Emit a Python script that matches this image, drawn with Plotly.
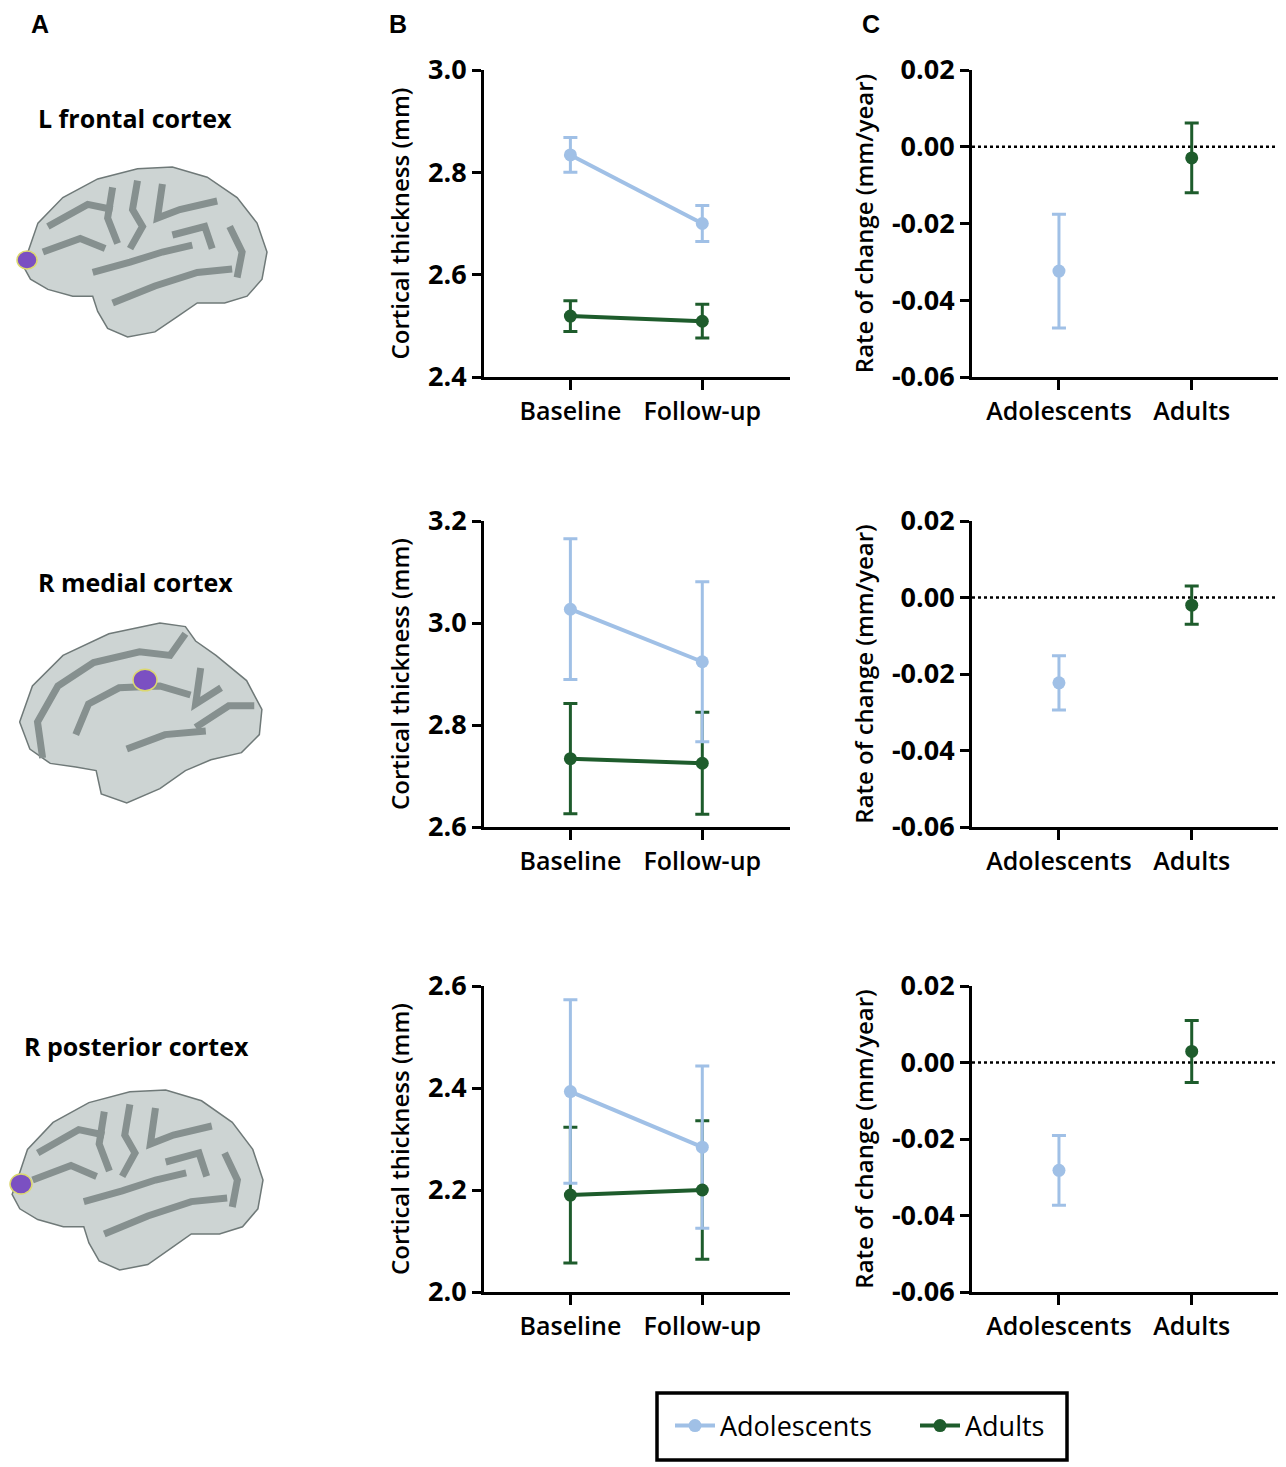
import plotly.graph_objects as go

W, H = 1286, 1467
OFF = 8  # the page body margin shifts everything by this much

# ---- data ----
timepoints = ["Baseline", "Follow-up"]
groups = ["Adolescents", "Adults"]
regions = ["L frontal cortex", "R medial cortex", "R posterior cortex"]

# panel B: cortical thickness (mm), mean and error per region
adol_thick = [[2.834, 2.700], [3.027, 2.924], [2.393, 2.284]]
adol_thick_err = [[0.034, 0.035], [0.138, 0.157], [0.180, 0.159]]
adult_thick = [[2.519, 2.509], [2.734, 2.725], [2.190, 2.200]]
adult_thick_err = [[0.030, 0.033], [0.108, 0.100], [0.133, 0.136]]

# panel C: rate of change (mm/year)
adol_rate = [-0.0324, -0.0223, -0.0282]
adol_rate_err = [0.0148, 0.0071, 0.0091]
adult_rate = [-0.0029, -0.0020, 0.0029]
adult_rate_err = [0.0091, 0.0050, 0.0081]

thick_ranges = [(2.4, 3.0), (2.6, 3.2), (2.0, 2.6)]
thick_ticks = [[2.4, 2.6, 2.8, 3.0], [2.6, 2.8, 3.0, 3.2], [2.0, 2.2, 2.4, 2.6]]
rate_ticks = [-0.06, -0.04, -0.02, 0.00, 0.02]
rate_labels = ["-0.06", "-0.04", "-0.02", "0.00", "0.02"]

BLUE = "#a0c0e6"
GREEN = "#1e5c2c"
FONT = "Open Sans"

# pixel layout of the panels (as seen in the reference)
row_px = [(70, 377), (521, 827), (986, 1292)]
colB_px = (484, 790)
colC_px = (972, 1280)


def px(x, y):
    return (x - OFF) / W, 1 - (y - OFF) / H


def dom_x(a, b):
    return [(a - OFF) / W, (b - OFF) / W]


def dom_y(top, bot):
    return [1 - (bot - OFF) / H, 1 - (top - OFF) / H]


fig = go.Figure()
layout = {}

for r in range(3):
    xb, yb = f"x{2*r+1}", f"y{2*r+1}"
    xc, yc = f"x{2*r+2}", f"y{2*r+2}"

    # error bars first, then the lines and points on top
    for vals, errs, col in [(adult_thick[r], adult_thick_err[r], GREEN),
                            (adol_thick[r], adol_thick_err[r], BLUE)]:
        fig.add_trace(go.Scatter(
            x=[0, 1], y=vals, mode="markers", xaxis=xb, yaxis=yb,
            marker=dict(size=0, color=col), showlegend=False, hoverinfo="skip",
            error_y=dict(type="data", array=errs, color=col, thickness=3, width=7)))
    for vals, col, name, rank in [(adult_thick[r], GREEN, "Adults", 2),
                                  (adol_thick[r], BLUE, "Adolescents", 1)]:
        fig.add_trace(go.Scatter(
            x=[0, 1], y=vals, mode="lines+markers", xaxis=xb, yaxis=yb,
            line=dict(color=col, width=4), marker=dict(size=13, color=col),
            name=name, legendrank=rank, showlegend=(r == 0)))

    # panel C
    fig.add_trace(go.Scatter(
        x=[0], y=[adol_rate[r]], mode="markers", xaxis=xc, yaxis=yc,
        marker=dict(size=13, color=BLUE), showlegend=False,
        error_y=dict(type="data", array=[adol_rate_err[r]], color=BLUE, thickness=3, width=7)))
    fig.add_trace(go.Scatter(
        x=[1], y=[adult_rate[r]], mode="markers", xaxis=xc, yaxis=yc,
        marker=dict(size=13, color=GREEN), showlegend=False,
        error_y=dict(type="data", array=[adult_rate_err[r]], color=GREEN, thickness=3, width=7)))

    top, bot = row_px[r]
    common_x = dict(range=[-0.655, 1.665], tickvals=[0, 1], showgrid=False, zeroline=False,
                    showline=True, linecolor="black", linewidth=3, ticks="outside",
                    ticklen=10, tickwidth=3, tickcolor="black", automargin=False,
                    tickfont=dict(family=FONT, size=25, color="black", weight=600))
    common_y = dict(showgrid=False, zeroline=False, showline=True, linecolor="black",
                    linewidth=3, ticks="outside", ticklen=9, tickwidth=3, tickcolor="black",
                    automargin=False,
                    tickfont=dict(family=FONT, size=27, color="black", weight=700))
    layout[f"xaxis{2*r+1}"] = dict(common_x, domain=dom_x(*colB_px), anchor=yb,
                                   ticktext=timepoints)
    layout[f"yaxis{2*r+1}"] = dict(common_y, domain=dom_y(top, bot), anchor=xb,
                                   range=list(thick_ranges[r]), tickvals=thick_ticks[r],
                                   ticktext=[f"{v:.1f}" for v in thick_ticks[r]],
                                   title=dict(text="Cortical thickness (mm)", standoff=12,
                                              font=dict(family=FONT, size=24, color="black", weight=600)))
    layout[f"xaxis{2*r+2}"] = dict(common_x, domain=dom_x(*colC_px), anchor=yc,
                                   ticktext=groups)
    layout[f"yaxis{2*r+2}"] = dict(common_y, domain=dom_y(top, bot), anchor=xc,
                                   range=[-0.06, 0.02], tickvals=rate_ticks, ticktext=rate_labels,
                                   title=dict(text="Rate of change (mm/year)", standoff=12,
                                              font=dict(family=FONT, size=24, color="black", weight=600)))

shapes = []
for r in range(3):
    shapes.append(dict(type="line", xref=f"x{2*r+2} domain", yref=f"y{2*r+2}",
                       x0=0, x1=1, y0=0, y1=0, layer="below",
                       line=dict(color="black", width=2.5, dash="dot")))


# ---- rough brain sketches for panel A (decoration only) ----
def path(points, box, close=True):
    x0, y0, x1, y1 = box
    s = ""
    for i, (u, v) in enumerate(points):
        X, Y = px(x0 + u * (x1 - x0), y0 + v * (y1 - y0))
        s += ("M" if i == 0 else "L") + f"{X:.5f},{Y:.5f} "
    return s + ("Z" if close else "")


lateral = [(0.04, 0.50), (0.08, 0.33), (0.18, 0.18), (0.32, 0.07), (0.48, 0.01), (0.62, 0.0),
           (0.76, 0.06), (0.88, 0.18), (0.96, 0.33), (1.0, 0.50), (0.98, 0.66), (0.92, 0.76),
           (0.83, 0.80), (0.72, 0.80), (0.64, 0.88), (0.55, 0.97), (0.44, 1.0), (0.36, 0.95),
           (0.32, 0.85), (0.30, 0.76), (0.22, 0.76), (0.12, 0.72), (0.05, 0.66), (0.02, 0.58)]
lateral_sulci = [
    [(0.30, 0.62), (0.45, 0.56), (0.58, 0.50), (0.70, 0.46)],
    [(0.48, 0.08), (0.46, 0.25), (0.50, 0.35), (0.45, 0.48)],
    [(0.38, 0.12), (0.36, 0.30), (0.40, 0.45)],
    [(0.12, 0.35), (0.28, 0.22), (0.38, 0.25)],
    [(0.10, 0.50), (0.25, 0.42), (0.35, 0.48)],
    [(0.58, 0.10), (0.56, 0.30), (0.65, 0.25), (0.80, 0.20)],
    [(0.38, 0.80), (0.55, 0.70), (0.72, 0.62), (0.86, 0.60)],
    [(0.85, 0.35), (0.90, 0.50), (0.88, 0.65)],
    [(0.62, 0.40), (0.75, 0.35), (0.78, 0.48)],
]
medial = [(0.03, 0.55), (0.08, 0.35), (0.20, 0.18), (0.38, 0.06), (0.58, 0.0), (0.68, 0.02),
          (0.72, 0.10), (0.80, 0.18), (0.92, 0.32), (0.98, 0.48), (0.97, 0.62), (0.90, 0.72),
          (0.78, 0.76), (0.68, 0.82), (0.58, 0.92), (0.45, 1.0), (0.35, 0.95), (0.33, 0.82),
          (0.25, 0.80), (0.15, 0.78), (0.07, 0.70)]
medial_sulci = [
    [(0.12, 0.75), (0.10, 0.55), (0.18, 0.35), (0.32, 0.22), (0.50, 0.16), (0.62, 0.18), (0.68, 0.06)],
    [(0.25, 0.62), (0.30, 0.45), (0.42, 0.36), (0.58, 0.35), (0.70, 0.40)],
    [(0.74, 0.25), (0.72, 0.45), (0.82, 0.36)],
    [(0.72, 0.58), (0.85, 0.46), (0.95, 0.46)],
    [(0.45, 0.70), (0.60, 0.62), (0.76, 0.60)],
]

brains = [
    (lateral, lateral_sulci, (18, 167, 267, 337), (27, 260, 10)),
    (medial, medial_sulci, (12, 623, 267, 803), (145, 680, 12)),
    (lateral, lateral_sulci, (7, 1090, 263, 1270), (21, 1184, 11)),
]
for outline, sulci, box, (cx, cy, rad) in brains:
    shapes.append(dict(type="path", xref="paper", yref="paper", path=path(outline, box),
                       fillcolor="#cdd4d3", line=dict(color="#6f7978", width=1.5)))
    for s in sulci:
        shapes.append(dict(type="path", xref="paper", yref="paper", path=path(s, box, close=False),
                           line=dict(color="#86908f", width=7)))
    a0, b0 = px(cx - rad, cy + rad * 0.9)
    a1, b1 = px(cx + rad, cy - rad * 0.9)
    shapes.append(dict(type="circle", xref="paper", yref="paper", x0=a0, y0=b0, x1=a1, y1=b1,
                       fillcolor="#7b50c2", line=dict(color="#dcd870", width=1.5)))

# legend frame
a0, b0 = px(657, 1460)
a1, b1 = px(1067, 1393)
shapes.append(dict(type="rect", xref="paper", yref="paper", x0=a0, y0=b0, x1=a1, y1=b1,
                   line=dict(color="black", width=3.5)))

annotations = []
for letter, xp in [("A", 40), ("B", 398), ("C", 871)]:
    X, Y = px(xp, 24)
    annotations.append(dict(text=letter, x=X, y=Y, xref="paper", yref="paper", showarrow=False,
                            xanchor="center", yanchor="middle",
                            font=dict(family="Liberation Sans", size=25, color="black", weight=700)))
for name, (xp, yp) in zip(regions, [(135, 118), (135, 582), (136, 1046)]):
    X, Y = px(xp, yp)
    annotations.append(dict(text=name, x=X, y=Y, xref="paper", yref="paper", showarrow=False,
                            xanchor="center", yanchor="middle",
                            font=dict(family=FONT, size=25, color="black", weight=700)))

lx, ly = px(670, 1426)
fig.update_layout(
    **layout,
    width=W, height=H,
    margin=dict(l=0, r=0, t=0, b=0, autoexpand=False),
    paper_bgcolor="white", plot_bgcolor="white",
    shapes=shapes, annotations=annotations,
    showlegend=True,
    legend=dict(orientation="h", x=lx, y=ly, xanchor="left", yanchor="middle",
                borderwidth=0, bgcolor="rgba(0,0,0,0)",
                font=dict(family=FONT, size=27, color="black"),
                itemwidth=40, entrywidth=190),
)

fig.write_html("out.html")
